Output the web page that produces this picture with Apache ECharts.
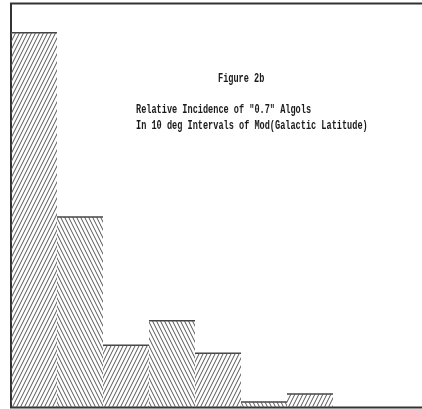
<!DOCTYPE html>
<html>
<head>
<meta charset="utf-8">
<script src="https://cdn.jsdelivr.net/npm/echarts@6/dist/echarts.min.js"></script>
<style>
  html, body { margin: 0; padding: 0; background: #fff; }
  #chart-container { width: 422px; height: 409px; }
</style>
</head>
<body>
<div id="chart-container"></div>
<script>
var dom = document.getElementById("chart-container");
var myChart = echarts.init(dom, null, { renderer: "canvas" });

// 10 deg bins of |galactic latitude|
const categories = ["0-10", "10-20", "20-30", "30-40", "40-50", "50-60", "60-70", "70-80", "80-90"];
const incidence = [0.476, 0.242, 0.079, 0.110, 0.069, 0.007, 0.017, 0, 0];
const titleLines = [
  "Figure 2b",
  "Relative Incidence of \"0.7\" Algols",
  "In 10 deg Intervals of Mod(Galactic Latitude)",
];

// diagonal hatch tile, dir 1 = "/", -1 = "\"
function hatch(dir) {
  const c = document.createElement("canvas");
  c.width = 4;
  c.height = 8;
  const ctx = c.getContext("2d");
  ctx.strokeStyle = "#555";
  ctx.lineWidth = 1;
  ctx.beginPath();
  for (let k = -4; k <= 4; k += 4) {
    if (dir > 0) {
      ctx.moveTo(k, 8);
      ctx.lineTo(k + 4, 0);
    } else {
      ctx.moveTo(k, 0);
      ctx.lineTo(k + 4, 8);
    }
  }
  ctx.stroke();
  return { image: c, repeat: "repeat" };
}
const fwd = hatch(1);
const back = hatch(-1);

const barData = incidence.map((v, i) => ({
  value: v,
  itemStyle: { color: i % 2 === 0 ? fwd : back },
}));

const textFont = 'bold 13px "Liberation Mono"';

var option = {
  animation: false,
  grid: {
    left: 11,
    top: 3.5,
    width: 414,
    height: 404,
    outerBoundsMode: "none",
    show: true,
    borderColor: "#333",
    borderWidth: 2,
  },
  xAxis: {
    type: "category",
    data: categories,
    axisLine: { show: false },
    axisTick: { show: false },
    axisLabel: { show: false },
  },
  yAxis: {
    type: "value",
    min: 0,
    max: 0.513,
    axisLine: { show: false },
    axisTick: { show: false },
    axisLabel: { show: false },
    splitLine: { show: false },
  },
  graphic: [
    { type: "text", x: 218, y: 72, scaleX: 0.66, style: { text: titleLines[0], font: textFont, fill: "#1a1a1a" } },
    { type: "text", x: 136, y: 103, scaleX: 0.66, style: { text: titleLines[1], font: textFont, fill: "#1a1a1a" } },
    { type: "text", x: 136, y: 119, scaleX: 0.66, style: { text: titleLines[2], font: textFont, fill: "#1a1a1a" } },
  ],
  series: [
    {
      type: "bar",
      data: barData,
      barWidth: "100%",
      barCategoryGap: 0,
      itemStyle: { borderWidth: 0 },
    },
    {
      // solid top edge of each bar
      type: "custom",
      data: incidence.map((v, i) => [i, v]),
      renderItem: function (params, api) {
        const v = api.value(1);
        if (!v) return null;
        const p = api.coord([api.value(0), v]);
        const w = api.size([1, 0])[0];
        return {
          type: "line",
          shape: { x1: p[0] - w / 2, y1: p[1], x2: p[0] + w / 2, y2: p[1] },
          style: { stroke: "#444", lineWidth: 1.5 },
        };
      },
    },
  ],
};

myChart.setOption(option);
window.addEventListener("resize", myChart.resize);
</script>
</body>
</html>
